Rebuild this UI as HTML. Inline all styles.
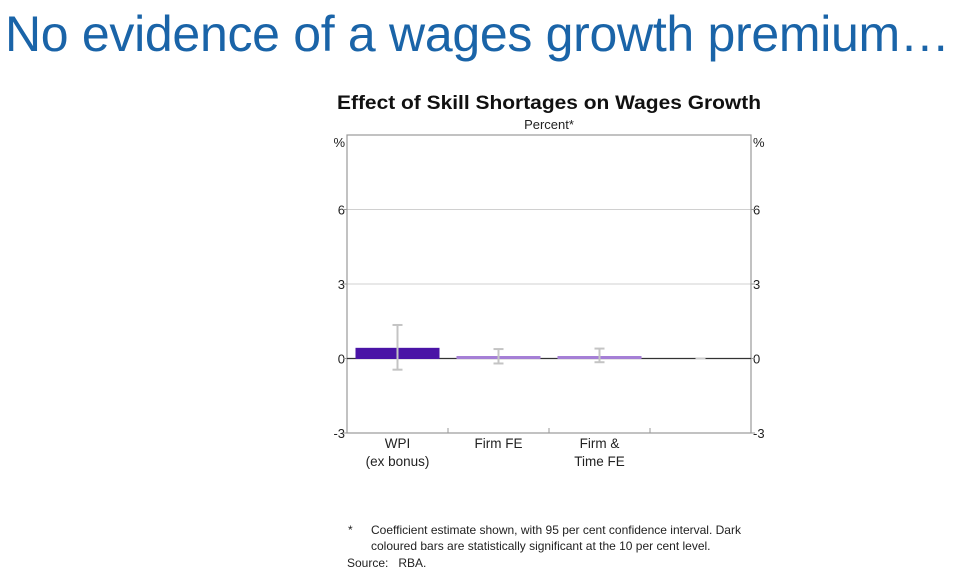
<!DOCTYPE html>
<html><head><meta charset="utf-8">
<style>
html,body{margin:0;padding:0;background:#fff;}
body{width:971px;height:580px;overflow:hidden;position:relative;font-family:"Liberation Sans",Arial,sans-serif;}
#title{position:absolute;left:5px;top:5px;font-size:50px;color:#1a64a8;white-space:nowrap;letter-spacing:-0.3px;}
svg{position:absolute;left:0;top:0;}
svg text{white-space:pre;}
</style></head>
<body>
<div id="title">No evidence of a wages growth premium…</div>
<svg id="chart" width="971" height="580" font-family="Liberation Sans, Arial, sans-serif"></svg>
<script>
const categories = ["WPI|(ex bonus)", "Firm FE", "Firm &|Time FE", ""];
const values = [0.45, 0.05, 0.08, 0];
const errLow = [-0.45, -0.2, -0.15, null];
const errHigh = [1.35, 0.38, 0.4, null];
const significant = [true, false, false, false];
const yTicks = [-3, 0, 3, 6];

const svg = document.getElementById('chart');
const NS = 'http://www.w3.org/2000/svg';
const L = 347, R = 751, T = 135, B = 433, yMin = -3, yMax = 9;
const y = v => T + (yMax - v) / (yMax - yMin) * (B - T);
const bw = (R - L) / categories.length;
const xc = i => L + bw * (i + 0.5);
function mk(tag, attrs, parent) {
  const e = document.createElementNS(NS, tag);
  for (const k in attrs) e.setAttribute(k, attrs[k]);
  (parent || svg).appendChild(e);
  return e;
}
let t;
t = mk('text', {x: 337, y: 109, 'font-size': 19, 'font-weight': 'bold', fill: '#111', textLength: 424, lengthAdjust: 'spacingAndGlyphs'});
t.textContent = 'Effect of Skill Shortages on Wages Growth';


t = mk('text', {x: 549, y: 129, 'text-anchor': 'middle', 'font-size': 13, fill: '#222'});
t.textContent = 'Percent*';



yTicks.forEach(v => {
  if (v === 0 || v === yMin) return;
  const g = mk('line', {x1: L, x2: R, y1: y(v), y2: y(v), stroke: '#d0d0d0', 'stroke-width': 1});
  
  
});
const fr = mk('rect', {x: L, y: T, width: R - L, height: B - T, fill: 'none', stroke: '#999', 'stroke-width': 1.2});


yTicks.forEach(v => {
  let a = mk('text', {x: L - 2, y: y(v) + 5, 'text-anchor': 'end', 'font-size': 13, fill: '#222'});
  a.textContent = v;
  
  
  let b = mk('text', {x: R + 2, y: y(v) + 5, 'text-anchor': 'start', 'font-size': 13, fill: '#222'});
  b.textContent = v;
  
  
  mk('line', {x1: L - 4, x2: L, y1: y(v), y2: y(v), stroke: '#999'});
  mk('line', {x1: R, x2: R + 4, y1: y(v), y2: y(v), stroke: '#999'});
});
t = mk('text', {x: L - 2, y: T + 12, 'text-anchor': 'end', 'font-size': 13, fill: '#222'}); t.textContent = '%';


t = mk('text', {x: R + 2, y: T + 12, 'text-anchor': 'start', 'font-size': 13, fill: '#222'}); t.textContent = '%';



const z = mk('line', {x1: L, x2: R, y1: y(0), y2: y(0), stroke: '#333', 'stroke-width': 1.2});



categories.forEach((c, i) => {
  const v = values[i];
  const x0 = xc(i) - 42;
  const h = Math.max(Math.abs(y(v) - y(0)), 3);
  const top = v >= 0 ? y(0) - h + 0.5 : y(0);
  const col = significant[i] ? '#4a14a6' : (c ? '#a57fd6' : '#cccccc');
  const r = mk('rect', {x: c ? x0 : xc(i) - 5, y: c ? top : y(0) - 1, width: c ? 84 : 10, height: c ? h : 2, fill: col});
  
  
  if (errLow[i] !== null) {
    const g = mk('g', {stroke: '#c4c4c4', 'stroke-width': 2});
    
    
    mk('line', {x1: xc(i), x2: xc(i), y1: y(errLow[i]), y2: y(errHigh[i])}, g);
    mk('line', {x1: xc(i) - 5, x2: xc(i) + 5, y1: y(errLow[i]), y2: y(errLow[i])}, g);
    mk('line', {x1: xc(i) - 5, x2: xc(i) + 5, y1: y(errHigh[i]), y2: y(errHigh[i])}, g);
  }
  if (i > 0) mk('line', {x1: L + bw * i, x2: L + bw * i, y1: B, y2: B - 5, stroke: '#999'});
  c.split('|').forEach((p, k) => {
    if (!p) return;
    const lb = mk('text', {x: xc(i), y: B + 15 + k * 18, 'text-anchor': 'middle', 'font-size': 13.5, fill: '#222'});
    lb.textContent = p;
    
    
  });
});

const notes = [['*', 348, 534], ['Coefficient estimate shown, with 95 per cent confidence interval. Dark', 371, 534], ['coloured bars are statistically significant at the 10 per cent level.', 371, 550], ['Source:   RBA.', 347, 567]];
notes.forEach(n => {
  const e = mk('text', {x: n[1], y: n[2], 'font-size': 12, fill: '#222'});
  e.textContent = n[0];
  
  
});
</script>
</body></html>
